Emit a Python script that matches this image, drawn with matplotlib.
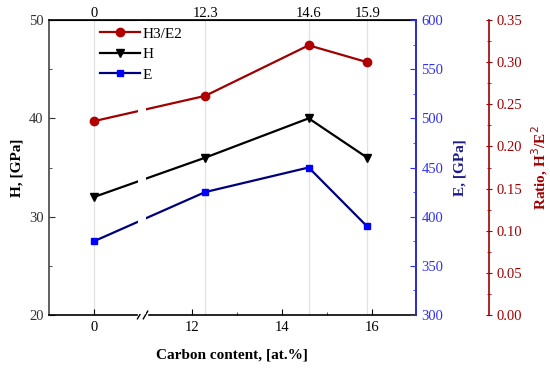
import matplotlib.pyplot as plt
from matplotlib.ticker import FixedLocator

# carbon content of the coatings and measured properties
carbon = [0, 12.3, 14.6, 15.9]
hardness = [32, 36, 40, 36]          # H, GPa
modulus = [375, 425, 450, 390]       # E, GPa
ratio = [0.230, 0.260, 0.320, 0.300]  # H3/E2

bottom_ticks = [0, 12, 14, 16]
bottom_minor = [13, 15]
top_labels = ['0', '12.3', '14.6', '15.9']

# broken x axis: everything above the break is shifted left
SHIFT = 9.83
BREAK = 1.08


def xpos(vals):
    return [v if v < 5 else v - SHIFT for v in vals]


plt.rcParams['font.family'] = ['Liberation Serif', 'DejaVu Serif']
plt.rcParams['font.size'] = 10.5

RED = '#a00000'
BLUE = '#3030f0'
NAVY = '#00007a'

fig = plt.figure(figsize=(5.5, 3.71), dpi=100)
ax = fig.add_axes([0.089, 0.151, 0.667, 0.795])
ax2 = ax.twinx()
ax3 = ax.twinx()

x = xpos(carbon)

for xv in x:
    ax.axvline(xv, color='#e2e2e2', lw=0.9, zorder=0)

lh, = ax.plot(x, hardness, color='black', lw=1.6, marker='v', ms=6, label='H', zorder=2)
le, = ax2.plot(x, modulus, color=NAVY, lw=1.6, marker='s', ms=5, mfc='#0000ff',
               mec='#0000ff', label='E', zorder=2)
lr, = ax3.plot(x, ratio, color=RED, lw=1.6, marker='o', ms=6, mfc='#b00000',
               mec='#b00000', label='H3/E2', zorder=2)

# gap in the lines at the axis break
ax3.axvspan(BREAK - 0.1, BREAK + 0.08, ymin=0.004, ymax=0.996, color='white',
            lw=0, zorder=3)

ax.set_xlim(-1, 7.15)
ax.set_ylim(20, 50)
ax2.set_ylim(300, 600)
ax3.set_ylim(0, 0.35)

ax.set_xticks(xpos(bottom_ticks))
ax.set_xticklabels([str(t) for t in bottom_ticks])
ax.xaxis.set_minor_locator(FixedLocator(xpos(bottom_minor)))
ax.set_yticks([20, 30, 40, 50])
ax.yaxis.set_minor_locator(FixedLocator([25, 35, 45]))
ax2.set_yticks([300, 350, 400, 450, 500, 550, 600])
ax2.yaxis.set_minor_locator(FixedLocator([325, 375, 425, 475, 525, 575]))
ax3.set_yticks([0, 0.05, 0.10, 0.15, 0.20, 0.25, 0.30, 0.35])
ax3.set_yticklabels(['%.2f' % v for v in ax3.get_yticks()])
ax3.yaxis.set_minor_locator(FixedLocator([0.025 + 0.05 * i for i in range(7)]))

ax.tick_params(which='both', direction='in', colors='#333333', pad=4)
ax.tick_params(which='major', length=4)
ax.tick_params(which='minor', length=2)
ax.tick_params(axis='x', colors='black')

ax2.tick_params(which='both', direction='in', colors=BLUE, pad=4)
ax2.tick_params(which='major', length=4)
ax2.tick_params(which='minor', length=2)

ax3.spines['right'].set_position(('axes', 1.199))
ax3.tick_params(which='both', direction='inout', colors=RED, pad=3)
ax3.tick_params(which='major', length=5)
ax3.tick_params(which='minor', length=3)

for a in (ax, ax2, ax3):
    for s in a.spines.values():
        s.set_linewidth(1.2)
ax.spines['left'].set_color('#444444')
ax2.spines['left'].set_visible(False)
ax3.spines['left'].set_visible(False)
ax2.spines['right'].set_color(BLUE)
ax3.spines['right'].set_color(RED)
ax3.spines['top'].set_visible(False)
ax3.spines['bottom'].set_visible(False)
ax2.spines['top'].set_visible(False)
ax2.spines['bottom'].set_visible(False)

top = ax.secondary_xaxis('top')
top.set_xticks(x)
top.set_xticklabels(top_labels)
top.tick_params(length=0, pad=0)

lab = dict(fontweight='bold', fontsize=11)
ax.set_xlabel('Carbon content, [at.%]', labelpad=11, **lab)
ax.set_ylabel('H, [GPa]', labelpad=4, **lab)
ax2.set_ylabel('E, [GPa]', color='#1a1a8c', labelpad=7, **lab)
ax3.set_ylabel('Ratio, H$^3$/E$^2$', color=RED, labelpad=5, **lab)

# break marks on the bottom axis
bx = (BREAK + 1) / 8.15
ax.add_patch(plt.Rectangle((bx - 0.012, -0.01), 0.024, 0.02, transform=ax.transAxes,
                           color='white', clip_on=False, zorder=4))
for dx in (-0.008, 0.008):
    ax.plot([bx + dx - 0.006, bx + dx + 0.006], [-0.013, 0.013], color='black',
            lw=1.0, transform=ax.transAxes, clip_on=False, zorder=5)

leg = ax3.legend(handles=[lr, lh, le], loc='upper left', bbox_to_anchor=(0.11, 1.013),
                 frameon=False, handlelength=2.6, labelspacing=0.45, handletextpad=0.2,
                 borderaxespad=0.3, fontsize=11)
leg.set_zorder(6)

fig.savefig('out.png', dpi=100)
